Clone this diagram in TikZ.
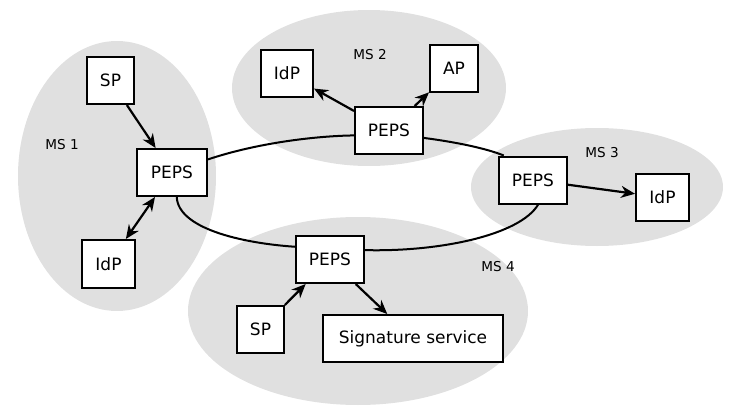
\documentclass[tikz,border=0pt]{standalone}
\usepackage{fontspec}
\setmainfont{DejaVu Sans}
\usetikzlibrary{arrows.meta}
\definecolor{msgray}{RGB}{224,224,224}

\begin{document}
\begin{tikzpicture}[x=0.5pt,y=-0.5pt,
    box/.style={draw,fill=white,line width=1pt,inner sep=0pt,minimum width=23.5pt,minimum height=23.5pt,font=\fontsize{8.5}{10}\selectfont},
    mslabel/.style={font=\fontsize{6.8}{8}\selectfont},
    flow/.style={-{Stealth[length=7pt,width=6pt]},line width=1.1pt},
    ring/.style={line width=1pt}]
    \useasboundingbox (0,0) rectangle (729,412);
    \fill[msgray] (117,176) ellipse [x radius=49.5pt, y radius=67.5pt];
    \fill[msgray] (369,88) ellipse [x radius=68.5pt, y radius=39pt];
    \fill[msgray] (597,187) ellipse [x radius=63pt, y radius=29.5pt];
    \fill[msgray] (358,311) ellipse [x radius=85pt, y radius=47pt];
    \node[mslabel] (ms1) at (62,145) {MS 1};
    \node[mslabel] (ms2) at (370,55) {MS 2};
    \node[mslabel] (ms3) at (602,153) {MS 3};
    \node[mslabel] (ms4) at (498,267) {MS 4};
    \node[box] (sp1) at (110.5,80.5) {SP};
    \node[box,minimum width=35pt] (peps1) at (172,172.5) {PEPS};
    \node[box,minimum width=26.5pt,minimum height=24pt] (idp1) at (108.5,264) {IdP};
    \node[box,minimum width=26pt] (idp2) at (287,73.5) {IdP};
    \node[box,minimum width=24pt] (ap2) at (454,68.5) {AP};
    \node[box,minimum width=34pt] (peps2) at (389,130.5) {PEPS};
    \node[box,minimum width=34pt] (peps3) at (533,180) {PEPS};
    \node[box,minimum width=26.5pt] (idp3) at (662.5,197.5) {IdP};
    \node[box,minimum width=34pt] (peps4) at (330,259.5) {PEPS};
    \node[box] (sp4) at (260.5,329.5) {SP};
    \node[box,minimum width=90pt] (sig4) at (413,338.5) {Signature service};
    \draw[ring] (peps1.20) .. controls (257,143) and (315,136) .. (peps2.188);
    \draw[ring] (peps2.-12) .. controls (455,142) and (485,148) .. (peps3.140);
    \draw[ring] (peps3.-78) .. controls (520,235) and (440,252) .. (peps4.15);
    \draw[ring] (peps4.160) .. controls (240,243) and (178,228) .. (peps1.-79);
    \draw[flow] (sp1) -- (peps1);
    \draw[flow,{Stealth[length=7pt,width=6pt]}-{Stealth[length=7pt,width=6pt]}] (idp1) -- (peps1);
    \draw[flow] (peps2) -- (idp2);
    \draw[flow] (peps2) -- (ap2);
    \draw[flow] (peps3) -- (idp3);
    \draw[flow] (sp4) -- (peps4);
    \draw[flow] (peps4) -- (sig4);
\end{tikzpicture}
\end{document}
